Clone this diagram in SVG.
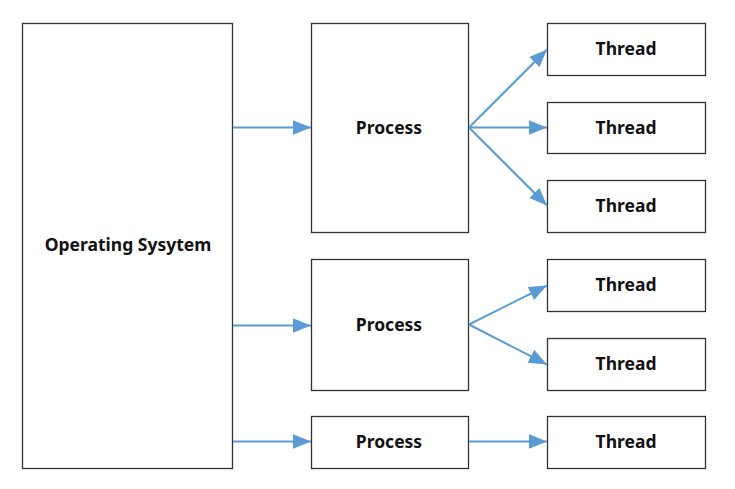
<svg xmlns="http://www.w3.org/2000/svg" width="735" height="489" viewBox="0 0 735 489">
<defs>
<marker id="ah" viewBox="0 0 10 8" refX="10" refY="4" markerWidth="9" markerHeight="7.2" markerUnits="strokeWidth" orient="auto">
<path d="M0,0 L10,4 L0,8 z" fill="#5b9bd5"/>
</marker>
</defs>
<style>
.box{fill:#fff;stroke:#333;stroke-width:1.3}
.lbl{font-family:"Noto Sans","Open Sans",sans-serif;font-weight:bold;font-size:17.5px;fill:#111;text-anchor:middle;dominant-baseline:central}
.c{stroke:#5b9bd5;stroke-width:2;fill:none;marker-end:url(#ah)}
</style>
<rect width="735" height="489" fill="#fff"/>
<g id="os"><rect class="box" x="22.5" y="23.5" width="210" height="445"/><text class="lbl" x="128" y="244">Operating Sysytem</text></g>
<g id="p1"><rect class="box" x="311.5" y="23.5" width="157" height="209"/><text class="lbl" x="389" y="127">Process</text></g>
<g id="p2"><rect class="box" x="311.5" y="259.5" width="157" height="131"/><text class="lbl" x="389" y="324">Process</text></g>
<g id="p3"><rect class="box" x="311.5" y="416.5" width="157" height="52"/><text class="lbl" x="389" y="441">Process</text></g>
<g id="t1"><rect class="box" x="547.5" y="23.5" width="158" height="52"/><text class="lbl" x="626" y="48">Thread</text></g>
<g id="t2"><rect class="box" x="547.5" y="102.5" width="158" height="51"/><text class="lbl" x="626" y="127">Thread</text></g>
<g id="t3"><rect class="box" x="547.5" y="180.5" width="158" height="52"/><text class="lbl" x="626" y="205">Thread</text></g>
<g id="t4"><rect class="box" x="547.5" y="259.5" width="158" height="52"/><text class="lbl" x="626" y="284">Thread</text></g>
<g id="t5"><rect class="box" x="547.5" y="338.5" width="158" height="52"/><text class="lbl" x="626" y="363">Thread</text></g>
<g id="t6"><rect class="box" x="547.5" y="416.5" width="158" height="52"/><text class="lbl" x="626" y="441">Thread</text></g>
<g id="connectors">
<line class="c" x1="233" y1="127.5" x2="311" y2="127.5"/>
<line class="c" x1="233" y1="325.5" x2="311" y2="325.5"/>
<line class="c" x1="233" y1="441.5" x2="311" y2="441.5"/>
<line class="c" x1="469" y1="127.5" x2="547" y2="49.5"/>
<line class="c" x1="469" y1="127.5" x2="547" y2="127.5"/>
<line class="c" x1="469" y1="127.5" x2="547" y2="205.5"/>
<line class="c" x1="469" y1="324.5" x2="547" y2="285.5"/>
<line class="c" x1="469" y1="324.5" x2="547" y2="364.5"/>
<line class="c" x1="469" y1="441.5" x2="547" y2="441.5"/>
</g>
</svg>
